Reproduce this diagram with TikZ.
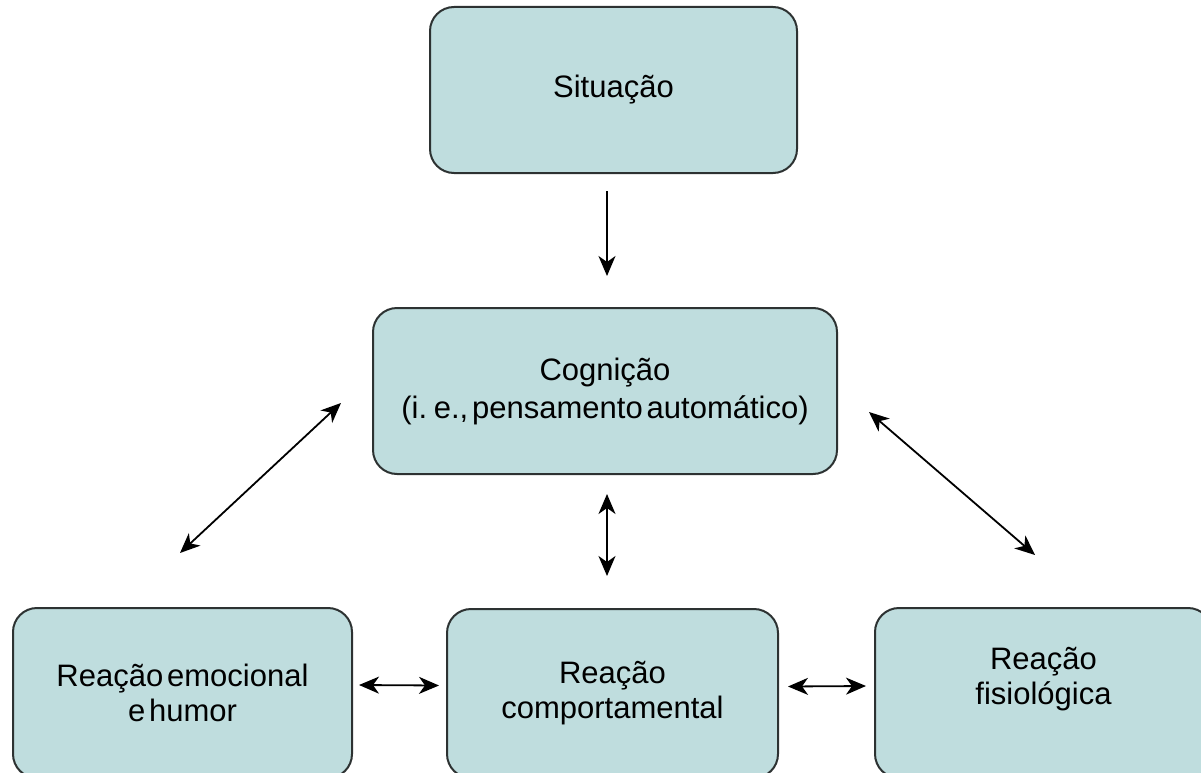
\documentclass[tikz,border=0pt]{standalone}
\usepackage{fontspec}
\setmainfont{Liberation Sans}[WordSpace=0.45]
\usetikzlibrary{arrows.meta}

\definecolor{boxfill}{RGB}{191,221,222}
\definecolor{boxline}{RGB}{45,50,50}

\begin{document}
\begin{tikzpicture}[x=1pt,y=-1pt,
        box/.style={draw=boxline, line width=2pt, fill=boxfill, rounded corners=24pt,
                    align=center, inner sep=0pt, font=\fontsize{31}{35}\selectfont},
        arr/.style={line width=1.8pt, -{Stealth[length=20pt,width=17pt,inset=6pt]}},
        darr/.style={line width=1.8pt, {Stealth[length=20pt,width=17pt,inset=6pt]}-{Stealth[length=20pt,width=17pt,inset=6pt]}}]
        \useasboundingbox (0,0) rectangle (1201,773);

        \node[box, minimum width=367pt, minimum height=166pt] (sit) at (613.5,90) {Situação};
        \node[box, minimum width=464pt, minimum height=166pt, font=\fontsize{31}{38}\selectfont] (cog) at (605,391) {Cognição\\(i. e., pensamento automático)};
        \node[box, minimum width=339pt, minimum height=170pt] (emo) at (182.5,693) {Reação emocional\\e humor};
        \node[box, minimum width=331pt, minimum height=169pt] (com) at (612.5,693.5) {Reação\\comportamental};
        \node[box, minimum width=337pt, minimum height=170pt, text depth=34pt] (fis) at (1043.5,693) {Reação\\fisiológica};

        \draw[arr] ([shift={(-6.5pt,-17pt)}]sit.south) -- ([shift={(2pt,31pt)}]cog.north);
        \draw[darr] ([shift={(2pt,-19pt)}]cog.south) -- ([shift={(-5.5pt,32pt)}]com.north);
        \draw[darr] ([shift={(-31pt,-12pt)}]cog.west) -- ([shift={(-2.5pt,54pt)}]emo.north);
        \draw[darr] ([shift={(31pt,-21pt)}]cog.east) -- ([shift={(-8.5pt,52pt)}]fis.north);
        \draw[darr] ([shift={(6pt,8pt)}]emo.east) -- ([shift={(-7pt,8pt)}]com.west);
        \draw[darr] ([shift={(9pt,7pt)}]com.east) -- ([shift={(-8pt,7pt)}]fis.west);

\end{tikzpicture}
\end{document}
